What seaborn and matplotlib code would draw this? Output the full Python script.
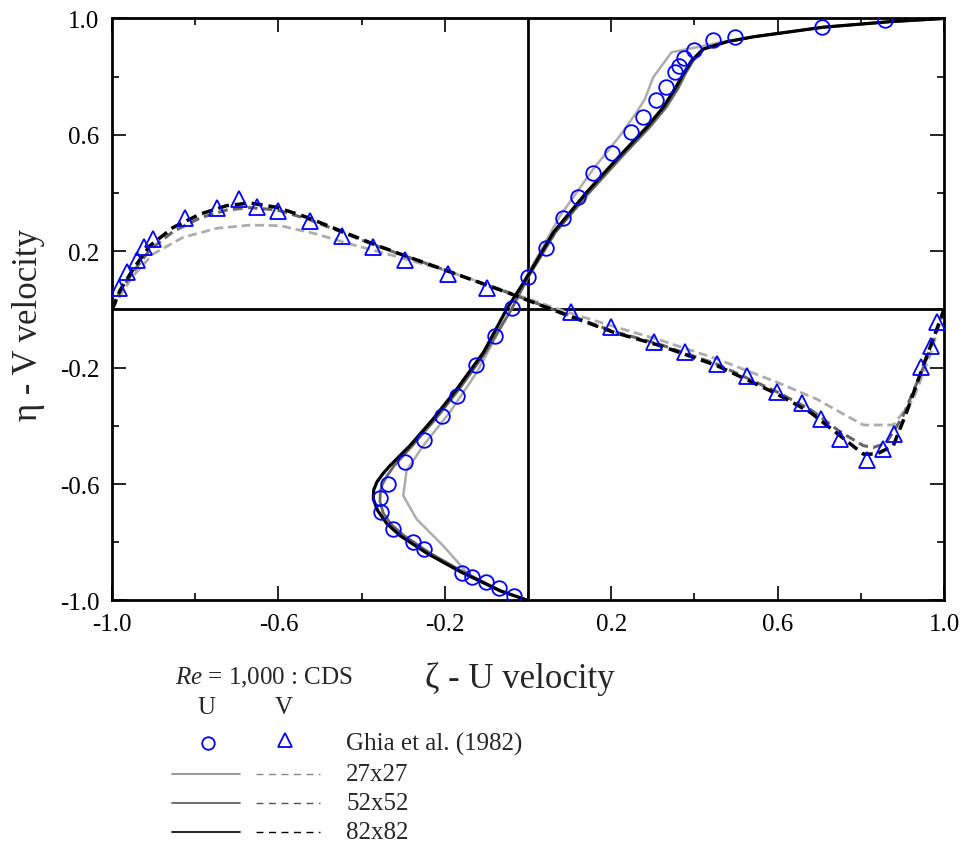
import numpy as np
import seaborn as sns
import matplotlib.pyplot as plt

# Ghia et al. (1982) reference points
ghia_u = [0.0, 0.042, 0.083, 0.121, 0.157, 0.201, 0.247, 0.276, 0.307, 0.332, 0.354, 0.364,
          0.375, 0.399, 0.444, 0.498, 0.706, 0.858,
          -0.039, -0.079, -0.126, -0.170, -0.206, -0.250, -0.296, -0.337, -0.356, -0.354,
          -0.325, -0.276, -0.250, -0.159, -0.134, -0.101, -0.069, -0.034]
ghia_u_eta = [0.111, 0.210, 0.314, 0.387, 0.468, 0.538, 0.611, 0.662, 0.720, 0.764, 0.815, 0.838,
              0.863, 0.892, 0.925, 0.935, 0.972, 0.996,
              0.005, -0.090, -0.191, -0.296, -0.367, -0.447, -0.525, -0.600, -0.649, -0.697,
              -0.754, -0.798, -0.823, -0.905, -0.920, -0.935, -0.957, -0.983]
ghia_v_zeta = [-0.983, -0.965, -0.941, -0.922, -0.901, -0.825, -0.748, -0.696, -0.652, -0.600,
               -0.524, -0.448, -0.372, -0.296, -0.192, -0.098, 0.103, 0.199, 0.303, 0.377,
               0.455, 0.527, 0.599, 0.658, 0.704, 0.750, 0.814, 0.853, 0.880, 0.944, 0.968, 0.984]
ghia_v = [0.073, 0.128, 0.171, 0.214, 0.242, 0.313, 0.348, 0.380, 0.351, 0.337,
          0.305, 0.254, 0.214, 0.171, 0.122, 0.073, -0.010, -0.061, -0.113, -0.147,
          -0.187, -0.230, -0.282, -0.321, -0.376, -0.445, -0.516, -0.479, -0.428, -0.199, -0.124, -0.044]

# U profiles (x = U, y = eta)
u27 = [0.0, -0.07, -0.14, -0.204, -0.268, -0.300, -0.292, -0.252, -0.188, -0.123, -0.059, -0.035,
       -0.003, 0.077, 0.157, 0.221, 0.261, 0.281, 0.301, 0.345, 0.413, 0.462, 0.542, 0.71, 0.87, 1.0]
u27_eta = [-1.0, -0.965, -0.915, -0.812, -0.720, -0.640, -0.554, -0.468, -0.353, -0.216, -0.044, 0.013,
           0.116, 0.322, 0.483, 0.597, 0.678, 0.723, 0.798, 0.884, 0.903, 0.918, 0.937, 0.970, 0.989, 1.0]
u52 = [0.0, -0.065, -0.158, -0.236, -0.298, -0.328, -0.348, -0.356, -0.355, -0.350, -0.338, -0.322,
       -0.278, -0.222, -0.165, -0.102, -0.040, 0.0, 0.066, 0.148, 0.228, 0.292, 0.332, 0.360, 0.378,
       0.397, 0.423, 0.478, 0.540, 0.710, 0.870, 1.0]
u52_eta = [-1.0, -0.967, -0.900, -0.837, -0.777, -0.740, -0.700, -0.660, -0.625, -0.600, -0.570, -0.537,
           -0.468, -0.376, -0.273, -0.147, 0.0, 0.110, 0.265, 0.403, 0.529, 0.626, 0.695, 0.758, 0.810,
           0.855, 0.895, 0.920, 0.937, 0.970, 0.989, 1.0]
u82 = [0.0, -0.067, -0.163, -0.244, -0.308, -0.340, -0.362, -0.372, -0.371, -0.363, -0.348, -0.332,
       -0.284, -0.228, -0.171, -0.107, -0.051, -0.003, 0.061, 0.141, 0.221, 0.285, 0.325, 0.353,
       0.373, 0.393, 0.421, 0.478, 0.542, 0.710, 0.870, 1.0]
u82_eta = [-1.0, -0.967, -0.901, -0.837, -0.777, -0.735, -0.690, -0.651, -0.620, -0.592, -0.563, -0.537,
           -0.468, -0.376, -0.273, -0.147, 0.002, 0.110, 0.265, 0.403, 0.529, 0.626, 0.695, 0.758,
           0.809, 0.855, 0.895, 0.920, 0.937, 0.970, 0.989, 1.0]

# V profiles (x = zeta, y = V)
v27_zeta = [-1.0, -0.975, -0.949, -0.901, -0.829, -0.748, -0.668, -0.596, -0.508, -0.428, -0.324,
            -0.195, -0.051, 0.085, 0.205, 0.317, 0.454, 0.598, 0.694, 0.750, 0.806, 0.878, 0.926,
            0.966, 1.0]
v27 = [0.0, 0.060, 0.116, 0.191, 0.248, 0.279, 0.290, 0.288, 0.259, 0.225, 0.185,
       0.133, 0.062, -0.005, -0.058, -0.105, -0.170, -0.250, -0.308, -0.353, -0.397, -0.397, -0.308,
       -0.159, 0.0]
v52_zeta = [-1.0, -0.981, -0.949, -0.909, -0.853, -0.788, -0.724, -0.668, -0.604, -0.532, -0.452,
            -0.372, -0.308, -0.195, -0.051, 0.085, 0.205, 0.317, 0.454, 0.598, 0.678, 0.750, 0.806,
            0.830, 0.860, 0.900, 0.950, 1.0]
v52 = [0.0, 0.060, 0.130, 0.205, 0.268, 0.315, 0.342, 0.350, 0.342, 0.312, 0.268,
       0.223, 0.190, 0.133, 0.059, -0.013, -0.075, -0.120, -0.188, -0.283, -0.343, -0.420, -0.468,
       -0.474, -0.460, -0.370, -0.200, 0.0]
v82_zeta = [-1.0, -0.981, -0.949, -0.909, -0.853, -0.788, -0.724, -0.668, -0.604, -0.532, -0.452,
            -0.372, -0.308, -0.195, -0.051, 0.085, 0.205, 0.317, 0.454, 0.598, 0.678, 0.750, 0.806,
            0.838, 0.878, 0.910, 0.950, 1.0]
v82 = [0.0, 0.065, 0.139, 0.219, 0.282, 0.328, 0.357, 0.366, 0.351, 0.317, 0.271,
       0.225, 0.191, 0.133, 0.059, -0.015, -0.078, -0.124, -0.193, -0.290, -0.353, -0.434, -0.497,
       -0.497, -0.468, -0.353, -0.193, 0.0]

grids = ['27x27', '52x52', '82x82']
grid_colors = ['#adadad', '#666666', '#000000']
major_ticks = [-1.0, -0.6, -0.2, 0.2, 0.6, 1.0]
minor_ticks = [-0.8, -0.4, 0.0, 0.4, 0.8]

sns.set_style('ticks')
plt.rcParams['font.family'] = ['Liberation Serif', 'DejaVu Serif']
plt.rcParams['mathtext.fontset'] = 'custom'
plt.rcParams['mathtext.it'] = 'Liberation Serif:italic'
plt.rcParams['mathtext.rm'] = 'Liberation Serif'
plt.rcParams['axes.unicode_minus'] = False

fig = plt.figure(figsize=(9.65, 8.54), dpi=100)
ax = fig.add_axes([0.1161, 0.2957, 0.8622, 0.6815])

ax.axhline(0, color='black', lw=2, zorder=1)
ax.axvline(0, color='black', lw=2, zorder=1)

u_lines = [(u27, u27_eta), (u52, u52_eta), (u82, u82_eta)]
v_lines = [(v27_zeta, v27), (v52_zeta, v52), (v82_zeta, v82)]
line_widths = [1.8, 2.0, 2.3]
for (ux, uy), (vx, vy), c, w in zip(u_lines, v_lines, grid_colors, line_widths):
    sns.lineplot(x=ux, y=uy, sort=False, estimator=None, color=c, lw=w, ax=ax, zorder=2)
    sns.lineplot(x=vx, y=vy, sort=False, estimator=None, color=c, lw=w + 0.2,
                 dashes=(3.2, 1.7), ax=ax, zorder=2)

sns.lineplot(x=ghia_u, y=ghia_u_eta, sort=False, estimator=None, linestyle='', marker='o',
             markersize=10.5, markerfacecolor='none', markeredgecolor='blue',
             markeredgewidth=1.3, color='blue', ax=ax, zorder=3)
sns.lineplot(x=ghia_v_zeta, y=ghia_v, sort=False, estimator=None, linestyle='', marker='^',
             markersize=11, markerfacecolor='none', markeredgecolor='blue',
             markeredgewidth=1.3, color='blue', ax=ax, zorder=3)

ax.set_xlim(-1, 1)
ax.set_ylim(-1, 1)
ax.set_xticks(major_ticks)
ax.set_yticks(major_ticks)
ax.set_xticklabels([f'{t:.1f}' for t in major_ticks])
ax.set_yticklabels([f'{t:.1f}' for t in major_ticks])
ax.set_xticks(minor_ticks, minor=True)
ax.set_yticks(minor_ticks, minor=True)
ax.tick_params(which='both', direction='in', top=True, right=True, width=1.2, colors='black')
ax.tick_params(which='major', length=10, pad=9, labelsize=18)
ax.tick_params(which='minor', length=5)
for s in ax.spines.values():
    s.set_linewidth(2)
    s.set_color('black')

ax.set_xlabel('ζ - U velocity', fontsize=25)
ax.set_ylabel('η - V velocity', fontsize=25)
ax.xaxis.set_label_coords(0.49, -0.105)
ax.yaxis.set_label_coords(-0.08, 0.475)

# legend block below the axes, in pixel coordinates
lax = fig.add_axes([0, 0, 1, 1])
lax.set_xlim(0, 965)
lax.set_ylim(854, 0)
lax.axis('off')
lax.patch.set_alpha(0)

lax.text(175, 678, r'$Re$ = 1,000 : CDS', fontsize=18, va='center')
lax.text(206, 708, 'U', fontsize=18, va='center', ha='center')
lax.text(284, 708, 'V', fontsize=18, va='center', ha='center')
lax.plot([208], [744], marker='o', ms=9, mfc='none', mec='blue', mew=1.3, ls='')
lax.plot([285], [741], marker='^', ms=10, mfc='none', mec='blue', mew=1.3, ls='')
lax.text(346, 744, 'Ghia et al. (1982)', fontsize=18, va='center')
legend_rows = [775, 804, 833]
legend_lc = ['#888888', '#555555', '#000000']
for g, c, yr in zip(grids, legend_lc, legend_rows):
    lax.plot([172, 240], [yr, yr], color=c, lw=1.2)
    lax.plot([256, 320], [yr, yr], color=c, lw=1.0, dashes=(5, 4))
    lax.text(346, yr, g, fontsize=18, va='center')

fig.savefig('out.png', dpi=100)
